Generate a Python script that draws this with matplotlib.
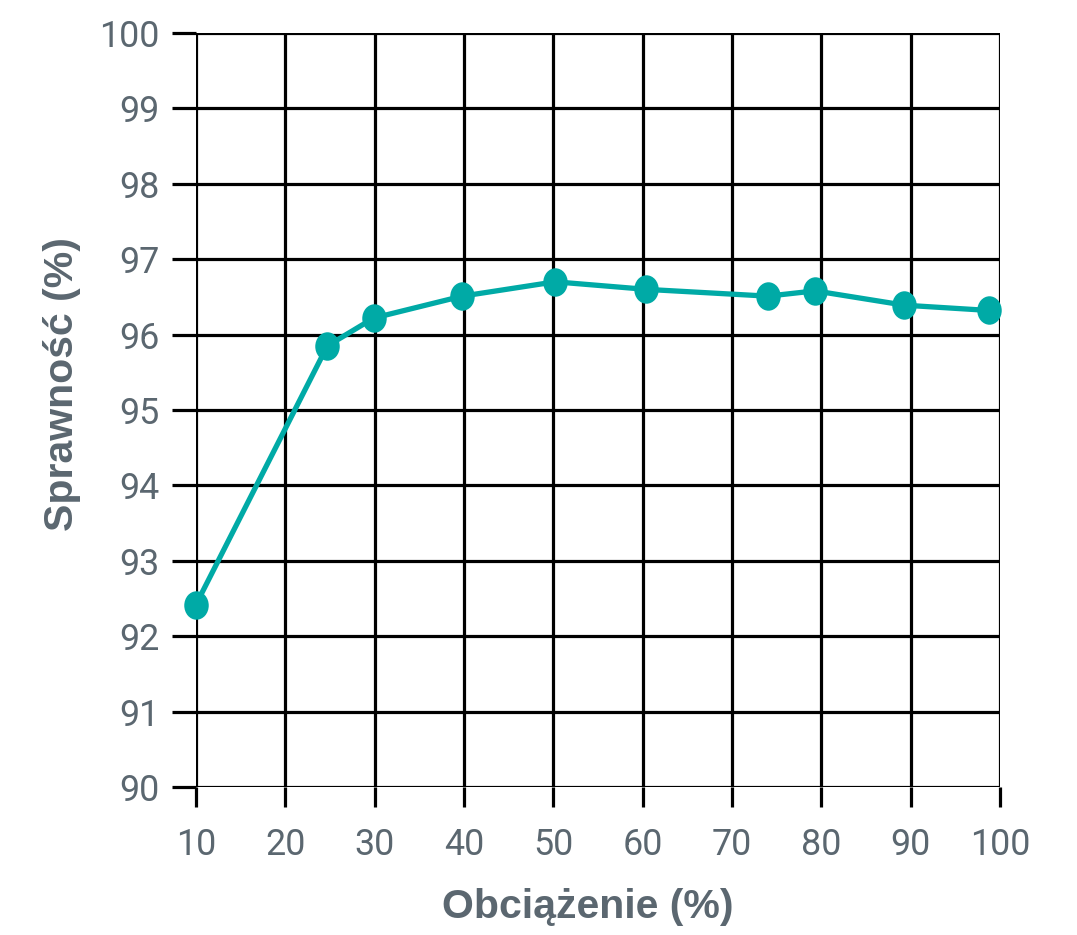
import matplotlib
matplotlib.use("Agg")
import matplotlib.pyplot as plt
from matplotlib.path import Path
from matplotlib.transforms import Affine2D

load = [10, 24.7, 29.9, 39.8, 50.2, 60.4, 74.0, 79.3, 89.3, 98.8]
efficiency = [92.42, 95.85, 96.22, 96.51, 96.70, 96.60, 96.51, 96.58, 96.39, 96.32]
xticks = [10, 20, 30, 40, 50, 60, 70, 80, 90, 100]
yticks = [90, 91, 92, 93, 94, 95, 96, 97, 98, 99, 100]

plt.rcParams['font.family'] = ['Roboto', 'DejaVu Sans']
grey = '#5b6770'
teal = '#00aaa6'

fig = plt.figure(figsize=(10.77, 9.35), dpi=100)
ax = fig.add_axes([196/1077, 1-787/935, (1000-196)/1077, (787-33)/935])
ax.set_xlim(10, 100)
ax.set_ylim(90, 100)
ax.set_xticks(xticks)
ax.set_yticks(yticks)
ax.grid(True, color='black', linewidth=2.3)
ax.set_axisbelow(True)
for s in ax.spines.values():
    s.set_visible(False)
ax.tick_params(axis='y', length=17, width=2.3, color='black', labelsize=25.8, labelcolor=grey, pad=9)
ax.tick_params(axis='x', length=14.5, width=2.3, color='black', labelsize=25.8, labelcolor=grey, pad=14)

ellipse = Path.unit_circle().transformed(Affine2D().scale(0.86, 1.0))
ax.plot(load, efficiency, color=teal, linewidth=3.8, marker=ellipse, markersize=20.5,
        markeredgewidth=0, clip_on=False, zorder=5)

lab_font = dict(fontsize=29.5, fontweight='bold', color=grey, family=['Liberation Sans', 'DejaVu Sans'])
ax.set_xlabel('Obciążenie (%)', labelpad=18, **lab_font)
ax.set_ylabel('Sprawność (%)', labelpad=13, **lab_font)
ax.xaxis.label.set_x(0.4876)
ax.yaxis.label.set_y(0.534)

fig.savefig('out.png', dpi=100)
